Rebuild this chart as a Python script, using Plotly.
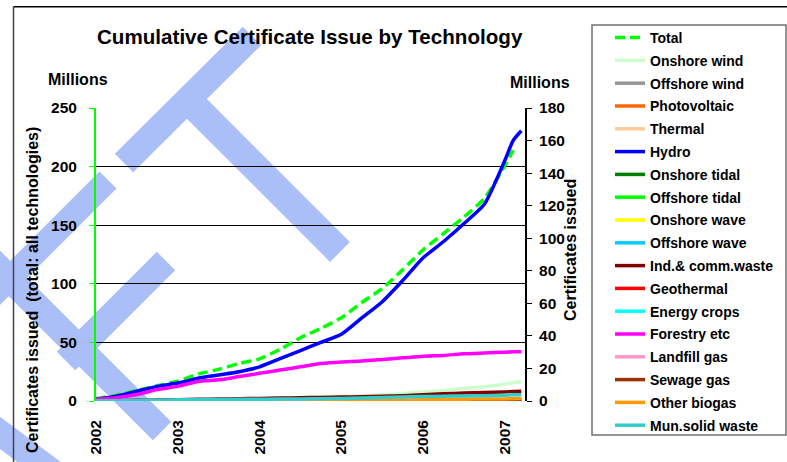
import plotly.graph_objects as go

# ---------------- data ----------------
years = [2002.0, 2002.25, 2002.5, 2002.75, 2003.0, 2003.25, 2003.5, 2003.75,
         2004.0, 2004.25, 2004.5, 2004.75, 2005.0, 2005.25, 2005.5, 2005.75,
         2006.0, 2006.25, 2006.5, 2006.75, 2007.0, 2007.1, 2007.2]

# Total, read on the left axis (millions)
total = [2, 5, 9, 13, 17, 23, 27, 32, 36, 44, 54, 62, 71, 84, 96, 112,
         129, 143, 157, 173, 201, 214, None]

# Technologies, read on the right axis (millions)
onshore_wind = [0, 0.1, 0.2, 0.3, 0.5, 0.7, 0.9, 1.1, 1.4, 1.7, 2.0, 2.4, 2.8, 3.3, 3.8, 4.6,
                5.5, 6.5, 7.7, 8.8, 10.3, 11.3, 12.0]
offshore_wind = [0, 0, 0, 0, 0, 0, 0, 0, 0, 0, 0, 0, 0, 0.1, 0.2, 0.3,
                 0.4, 0.5, 0.6, 0.7, 0.8, 0.8, 0.9]
photovoltaic = [0, 0, 0, 0, 0, 0, 0, 0, 0, 0, 0, 0, 0, 0, 0, 0,
                0, 0, 0, 0, 0, 0, 0]
thermal = [0, 0, 0, 0, 0, 0, 0, 0, 0, 0, 0, 0, 0, 0, 0, 0,
           0, 0, 0, 0, 0, 0, 0]
hydro = [1, 3, 6, 9, 11, 14, 16, 18, 21, 26, 31, 36, 41, 51, 61, 74,
         88, 98, 109, 121, 148, 160, 166]
onshore_tidal = [0, 0, 0, 0, 0, 0, 0, 0, 0, 0, 0, 0, 0, 0, 0, 0,
                 0, 0, 0, 0, 0, 0, 0]
offshore_tidal = [0, 0, 0, 0, 0, 0, 0, 0, 0, 0, 0, 0, 0, 0, 0, 0,
                  0, 0, 0, 0, 0, 0, 0]
onshore_wave = [0, 0, 0, 0, 0, 0, 0, 0, 0, 0, 0, 0, 0, 0, 0, 0,
                0, 0, 0, 0, 0, 0, 0]
offshore_wave = [0, 0, 0, 0, 0, 0, 0, 0, 0, 0, 0, 0, 0, 0, 0, 0,
                 0, 0, 0, 0, 0, 0, 0]
ind_comm_waste = [0, 0.2, 0.4, 0.6, 0.8, 1.0, 1.2, 1.4, 1.6, 1.8, 2.0, 2.2, 2.4, 2.6, 2.9, 3.3,
                  3.8, 4.4, 4.9, 5.2, 5.6, 5.9, 6.0]
geothermal = [0, 0, 0, 0, 0, 0, 0, 0, 0, 0, 0, 0, 0, 0, 0, 0,
              0, 0, 0, 0, 0, 0, 0]
energy_crops = [0, 0, 0, 0, 0, 0, 0, 0, 0, 0, 0, 0, 0, 0, 0, 0,
                0, 0, 0, 0, 0, 0, 0]
forestry = [1, 2, 4, 7, 9, 12, 13, 15, 17, 19, 21, 23, 24, 24.5, 25.5, 26.5,
            27.5, 28, 29, 29.5, 30, 30.3, 30.3]
landfill_gas = [0, 0, 0, 0, 0, 0, 0, 0, 0, 0, 0, 0, 0, 0, 0, 0,
                0, 0, 0, 0, 0, 0, 0]
sewage_gas = [0, 0, 0, 0, 0, 0, 0, 0, 0, 0, 0, 0, 0, 0, 0, 0,
              0, 0, 0, 0, 0, 0, 0]
other_biogas = [0, 0, 0, 0, 0, 0, 0, 0, 0, 0, 0, 0, 0, 0, 0.3, 0.5,
                0.7, 0.9, 1.1, 1.2, 1.3, 1.4, 1.5]
mun_solid_waste = [0, 0.1, 0.3, 0.5, 0.7, 0.8, 0.9, 1.0, 1.1, 1.2, 1.3, 1.4, 1.6, 1.8, 2.1, 2.4,
                   2.7, 2.9, 3.1, 3.3, 3.6, 3.8, 3.9]

tech_names = ["Onshore wind", "Offshore wind", "Photovoltaic", "Thermal", "Hydro",
              "Onshore tidal", "Offshore tidal", "Onshore wave", "Offshore wave",
              "Ind.& comm.waste", "Geothermal", "Energy crops", "Forestry etc",
              "Landfill gas", "Sewage gas", "Other biogas", "Mun.solid waste"]
tech_values = [onshore_wind, offshore_wind, photovoltaic, thermal, hydro,
               onshore_tidal, offshore_tidal, onshore_wave, offshore_wave,
               ind_comm_waste, geothermal, energy_crops, forestry,
               landfill_gas, sewage_gas, other_biogas, mun_solid_waste]
tech_colors = ["#ccffcc", "#969696", "#ff6600", "#ffcc99", "#0000ff",
               "#008000", "#00ff00", "#ffff00", "#00ccff",
               "#800000", "#ff0000", "#00ffff", "#ff00ff",
               "#ff99cc", "#993300", "#ff9900", "#33cccc"]

x_ticks = [2002, 2003, 2004, 2005, 2006, 2007]
x_ticktext = ["2002", "2003", "2004", "2005", "2006", "2007"]

# ---------------- layout helpers ----------------
W, H = 787, 462
L, R, T, B = 96, 525, 108, 401


def px(x):
    return (x - L) / (R - L)


def py(y):
    return (B - y) / (B - T)


FONT = "Arial, Liberation Sans, sans-serif"

fig = go.Figure()

fig.add_trace(go.Scatter(x=years, y=total, name="Total", mode="lines",
                         line=dict(color="#00ff00", width=3.5, dash="10px,5px",
                                   shape="spline", smoothing=0.6),
                         yaxis="y", legendgroup="g0"))
for i, (nm, vals, col) in enumerate(zip(tech_names, tech_values, tech_colors)):
    fig.add_trace(go.Scatter(x=years, y=vals, name=nm, mode="lines",
                             line=dict(color=col, width=3.5, shape="spline", smoothing=0.6),
                             yaxis="y2", legendgroup="g%d" % (i + 1)))

# watermark bands (decoration, pixel positions)
wm_col = "#aabef8"
bands = [((252, 36), (124, 163), 26),
         ((190, 102), (340, 252), 28),
         ((108, 180), (-30, 318), 24),
         ((166, 261), (66, 361), 26),
         ((-30, 239), (162, 431), 26),
         ((-20, 418), (90, 500), 26)]
shapes = []
for (x0, y0), (x1, y1), w in bands:
    shapes.append(dict(type="line", xref="paper", yref="paper",
                       x0=px(x0), y0=py(y0), x1=px(x1), y1=py(y1),
                       line=dict(color=wm_col, width=w), layer="below"))
# outer frame
shapes.append(dict(type="line", xref="paper", yref="paper", x0=px(13.5), y0=py(470),
                   x1=px(13.5), y1=py(6.7), line=dict(color="#404040", width=1.5)))
shapes.append(dict(type="line", xref="paper", yref="paper", x0=px(13.5), y0=py(6.7),
                   x1=px(790), y1=py(6.7), line=dict(color="#000000", width=1.5)))
# legend box
shapes.append(dict(type="rect", xref="paper", yref="paper", x0=px(592), y0=py(435),
                   x1=px(786), y1=py(25), line=dict(color="#707070", width=1.5)))

annotations = [
    dict(text="<b>Cumulative Certificate Issue by Technology</b>", x=px(310), y=py(37),
         xref="paper", yref="paper", showarrow=False, xanchor="center", yanchor="middle",
         font=dict(size=20.6, color="#000000", family=FONT)),
    dict(text="<b>Millions</b>", x=px(78), y=py(79), xref="paper", yref="paper",
         showarrow=False, xanchor="center", yanchor="middle",
         font=dict(size=16, color="#000000", family=FONT)),
    dict(text="<b>Millions</b>", x=px(540), y=py(82), xref="paper", yref="paper",
         showarrow=False, xanchor="center", yanchor="middle",
         font=dict(size=16, color="#000000", family=FONT)),
    dict(text="<b>Certificates issued  (total: all technologies)</b>", x=px(32), y=py(290),
         xref="paper", yref="paper", showarrow=False, xanchor="center", yanchor="middle",
         textangle=-90, font=dict(size=16, color="#000000", family=FONT)),
    dict(text="<b>Certificates issued</b>", x=px(570), y=py(250),
         xref="paper", yref="paper", showarrow=False, xanchor="center", yanchor="middle",
         textangle=-90, font=dict(size=16, color="#000000", family=FONT)),
]

fig.update_layout(
    width=W, height=H,
    margin=dict(l=L, r=W - R, t=T, b=H - B, pad=0, autoexpand=False),
    paper_bgcolor="#ffffff",
    plot_bgcolor="rgba(0,0,0,0)",
    font=dict(family=FONT, color="#000000"),
    showlegend=True,
    legend=dict(x=px(610), y=py(22), xanchor="left", yanchor="top", maxheight=430,
                bgcolor="rgba(0,0,0,0)", borderwidth=0, tracegroupgap=1.6,
                font=dict(size=14, color="#000000", family=FONT, weight="bold")),
    xaxis=dict(range=[2002, 2007.245], tickvals=x_ticks, ticktext=x_ticktext,
               tickangle=-90, showgrid=False, zeroline=False, showline=False,
               ticks="", ticklabelstandoff=15,
               tickfont=dict(size=15.5, color="#000000", family=FONT, weight="bold")),
    yaxis=dict(range=[0, 250], dtick=50, showgrid=True, gridcolor="#000000", gridwidth=1,
               zeroline=False, showline=True, linecolor="#00ff00", linewidth=2,
               ticks="outside", ticklen=5, tickcolor="#00ff00", ticklabelstandoff=9,
               tickfont=dict(size=15.5, color="#000000", family=FONT, weight="bold")),
    yaxis2=dict(range=[0, 180], dtick=20, overlaying="y", side="right", showgrid=False,
                zeroline=False, showline=True, linecolor="#000000", linewidth=2,
                ticks="outside", ticklen=5, tickcolor="#000000", ticklabelstandoff=4,
                tickfont=dict(size=15.5, color="#000000", family=FONT, weight="bold")),
    shapes=shapes,
    annotations=annotations,
)

fig.write_html("out.html", config={"displayModeBar": False},
               post_script="document.body.style.margin='0';")
